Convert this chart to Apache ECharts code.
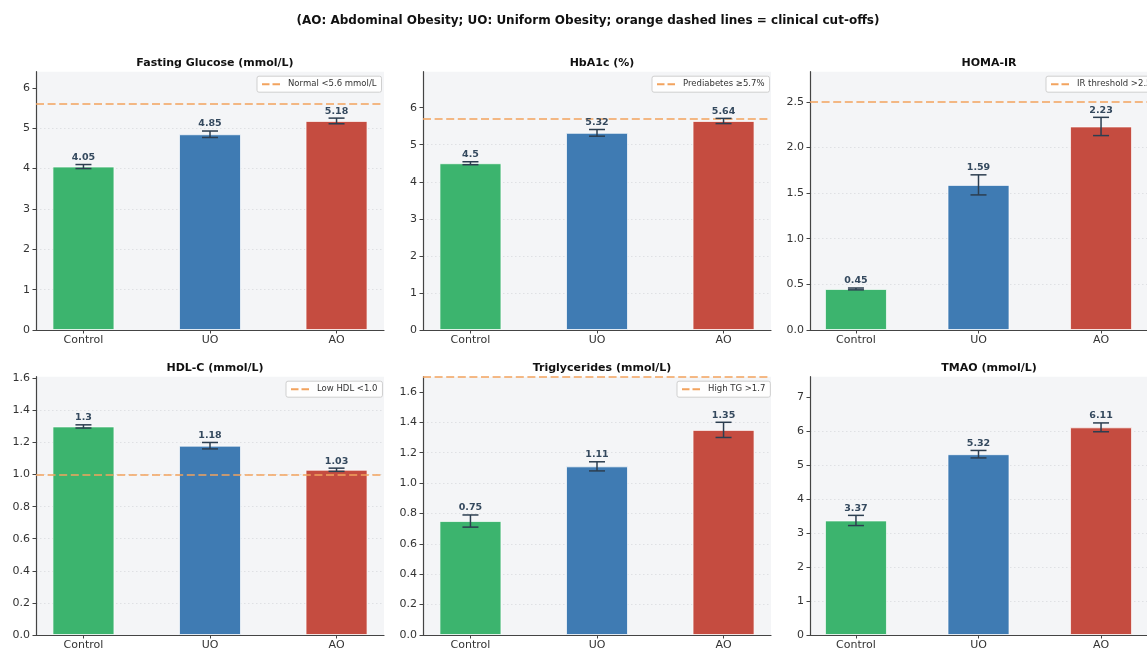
<!DOCTYPE html>
<html>
<head>
<meta charset="utf-8">
<script src="https://cdn.jsdelivr.net/npm/echarts@6/dist/echarts.min.js"></script>
<style>html,body{margin:0;padding:0;background:#fff;}#c{width:1147px;height:652px;}</style>
</head>
<body>
<div id="c"></div>
<script>
const categories = ['Control', 'UO', 'AO'];
const panelTitles = ['Fasting Glucose (mmol/L)', 'HbA1c (%)', 'HOMA-IR', 'HDL-C (mmol/L)', 'Triglycerides (mmol/L)', 'TMAO (mmol/L)'];
const glucose = [4.05, 4.85, 5.18];
const glucoseErr = [0.05, 0.08, 0.07];
const hba1c = [4.5, 5.32, 5.64];
const hba1cErr = [0.04, 0.09, 0.07];
const homa = [0.45, 1.59, 2.23];
const homaErr = [0.01, 0.11, 0.10];
const hdl = [1.3, 1.18, 1.03];
const hdlErr = [0.01, 0.02, 0.01];
const tg = [0.75, 1.11, 1.35];
const tgErr = [0.04, 0.03, 0.05];
const tmao = [3.37, 5.32, 6.11];
const tmaoErr = [0.15, 0.11, 0.13];
const cutoffs = [5.6, 5.7, 2.5, 1.0, 1.7, null];
const cutoffLabels = ['Normal <5.6 mmol/L', 'Prediabetes \u22655.7%', 'IR threshold >2.5', 'Low HDL <1.0', 'High TG >1.7', null];
const yMax = [6.4, 6.97, 2.83, 1.61, 1.7, 7.6];
const yTicks1 = [0, 1, 2, 3, 4, 5, 6];
const yTicks2 = [0, 1, 2, 3, 4, 5, 6];
const yTicks3 = [0, 0.5, 1.0, 1.5, 2.0, 2.5];
const yTicks4 = [0, 0.2, 0.4, 0.6, 0.8, 1.0, 1.2, 1.4, 1.6];
const yTicks5 = [0, 0.2, 0.4, 0.6, 0.8, 1.0, 1.2, 1.4, 1.6];
const yTicks6 = [0, 1, 2, 3, 4, 5, 6, 7];
const subtitle = '(AO: Abdominal Obesity; UO: Uniform Obesity; orange dashed lines = clinical cut-offs)';

const values = [glucose, hba1c, homa, hdl, tg, tmao];
const errs = [glucoseErr, hba1cErr, homaErr, hdlErr, tgErr, tmaoErr];
const yTicks = [yTicks1, yTicks2, yTicks3, yTicks4, yTicks5, yTicks6];
const yDec = [0, 0, 1, 1, 1, 0];
const yStep = [1, 1, 0.5, 0.2, 0.2, 1];

const barColors = ['#3cb46e', '#3f7bb3', '#c54c40'];
const cutColor = '#f2a35e';
const FONT = 'DejaVu Sans';

const colLeft = [36, 423, 810];
const rowTop = [71.7, 376.7];
const gW = 348, gH = 258.3;
const legendLeft = [257, 652, 1046, 286, 677, null];
const dashIcon = 'path://M0,0H7.5V2H0Z M10.5,0H18V2H10.5Z';

const grid = [], xAxis = [], yAxis = [], series = [], title = [], legend = [];

title.push({
  text: subtitle, left: 583, top: 10, textAlign: 'center',
  textStyle: {fontFamily: FONT, fontSize: 12, fontWeight: 'bold', color: '#111'}
});

for (let i = 0; i < 6; i++) {
  const r = Math.floor(i / 3), c = i % 3;
  const left = colLeft[c], top = rowTop[r];
  grid.push({left: left, top: top, width: gW, height: gH, show: true, backgroundColor: '#f4f5f7', borderWidth: 0, containLabel: false});
  title.push({
    text: panelTitles[i], left: left + gW / 2, top: top - 19, textAlign: 'center',
    textStyle: {fontFamily: FONT, fontSize: 11, fontWeight: 'bold', color: '#111'}
  });
  xAxis.push({
    type: 'value', gridIndex: i, min: -0.375, max: 2.375,
    axisLine: {show: true, onZero: false, lineStyle: {color: '#444', width: 1.2}},
    axisTick: {show: true, customValues: [0, 1, 2], length: 3.5, lineStyle: {color: '#444'}},
    axisLabel: {customValues: [0, 1, 2], formatter: v => categories[Math.round(v)], color: '#333', fontFamily: FONT, fontSize: 11, margin: 5},
    splitLine: {show: false}
  });
  const dec = yDec[i];
  yAxis.push({
    type: 'value', gridIndex: i, min: 0, max: yMax[i], interval: yStep[i],
    axisLine: {show: true, onZero: false, lineStyle: {color: '#444', width: 1.2}},
    axisTick: {show: true, customValues: yTicks[i], length: 3.5, lineStyle: {color: '#444'}},
    axisLabel: {customValues: yTicks[i], formatter: v => v.toFixed(dec), color: '#333', fontFamily: FONT, fontSize: 11, margin: 6},
    splitLine: {show: true, showMinLine: false, showMaxLine: false, lineStyle: {color: '#d9dbde', type: [1.5, 2.5], width: 0.8}}
  });
  const vals = values[i], er = errs[i];
  series.push({
    type: 'bar', xAxisIndex: i, yAxisIndex: i, barWidth: 62,
    data: vals.map((v, k) => ({value: [k, v], itemStyle: {color: barColors[k]}})),
    itemStyle: {borderColor: 'rgba(255,255,255,0.7)', borderWidth: 1},
    z: 2
  });
  series.push({
    type: 'custom', xAxisIndex: i, yAxisIndex: i, z: 5,
    data: vals.map((v, k) => [k, v, er[k]]),
    renderItem: function (params, api) {
      const x = api.value(0), v = api.value(1), e = api.value(2);
      const hi = api.coord([x, v + e]);
      const lo = api.coord([x, v - e]);
      const cx = hi[0], hw = 8;
      const st = {stroke: '#2c3e50', lineWidth: 1.5};
      return {
        type: 'group',
        children: [
          {type: 'line', shape: {x1: cx, y1: hi[1], x2: cx, y2: lo[1]}, style: st},
          {type: 'line', shape: {x1: cx - hw, y1: hi[1], x2: cx + hw, y2: hi[1]}, style: st},
          {type: 'line', shape: {x1: cx - hw, y1: lo[1], x2: cx + hw, y2: lo[1]}, style: st},
          {type: 'text', style: {text: String(vals[params.dataIndex]), x: cx, y: hi[1] - 2, textAlign: 'center', textVerticalAlign: 'bottom', fill: '#34495e', font: 'bold 9.5px "DejaVu Sans"'}}
        ]
      };
    }
  });
  if (cutoffs[i] !== null) {
    series.push({
      type: 'line', name: cutoffLabels[i], xAxisIndex: i, yAxisIndex: i, data: [], symbol: 'none',
      lineStyle: {color: cutColor, type: [8, 3.6], width: 1.6},
      itemStyle: {color: cutColor},
      markLine: {
        silent: true, symbol: 'none', label: {show: false},
        lineStyle: {color: cutColor, type: [8, 3.6], width: 1.6},
        data: [{yAxis: cutoffs[i]}]
      }
    });
    legend.push({
      data: [{name: cutoffLabels[i], icon: dashIcon}], left: legendLeft[i], top: top + 4.5, orient: 'horizontal',
      backgroundColor: 'rgba(255,255,255,0.85)', borderColor: '#cfcfcf', borderWidth: 1, borderRadius: 2,
      padding: [3, 5, 3, 5], itemWidth: 18, itemHeight: 2, itemGap: 5, selectedMode: false,
      itemStyle: {color: cutColor, borderWidth: 0},
      lineStyle: {width: 0},
      textStyle: {fontFamily: FONT, fontSize: 8.5, color: '#333', padding: [0, 0, 0, 3], lineHeight: 10}
    });
  }
}

const chart = echarts.init(document.getElementById('c'), null, {renderer: 'canvas'});
chart.setOption({animation: false, backgroundColor: '#fff', title, legend, grid, xAxis, yAxis, series});
</script>
</body>
</html>
